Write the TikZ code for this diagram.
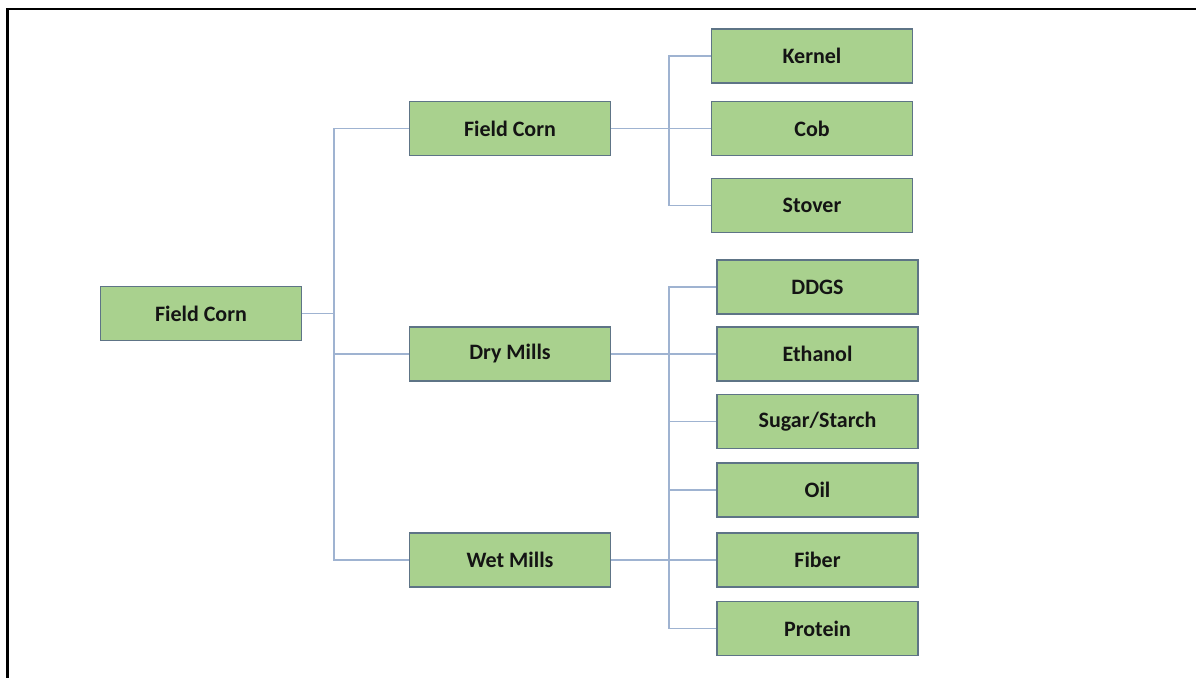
\documentclass[tikz,border=0pt]{standalone}
\usepackage{fontspec}
\setmainfont{Carlito}
\definecolor{boxfill}{HTML}{A9D18E}
\definecolor{boxedge}{HTML}{5E7486}
\definecolor{connc}{HTML}{9FB3D1}
\definecolor{txt}{HTML}{141414}
\begin{document}
\begin{tikzpicture}[x=1pt,y=-1pt,
  box/.style={draw=boxedge, fill=boxfill, line width=1.8pt, minimum width=201pt, minimum height=54pt, inner sep=0pt, font=\fontsize{22}{26}\selectfont\bfseries, text=txt},
  conn/.style={draw=connc, line width=1.3pt}]
\useasboundingbox (0,0) rectangle (1196,677);
\fill[white] (0,0) rectangle (1196,677);
\draw[line width=2.5pt, black] (7.5,680) -- (7.5,9) -- (1200,9);

\node[box] (root) at (201,313.5) {Field Corn};
\node[box] (mfc) at (510,128.5) {Field Corn};
\node[box] (dry) at (510,354) {Dry Mills};
\node[box] (wet) at (510,560) {Wet Mills};

\node[box] (kernel) at (812,56) {Kernel};
\node[box] (cob) at (812,128.5) {Cob};
\node[box] (stover) at (812,205.5) {Stover};

\node[box] (ddgs) at (817.5,287) {DDGS};
\node[box] (ethanol) at (817.5,354) {Ethanol};
\node[box] (sugar) at (817.5,421.5) {Sugar/Starch};
\node[box] (oil) at (817.5,490) {Oil};
\node[box] (fiber) at (817.5,560) {Fiber};
\node[box] (protein) at (817.5,628.5) {Protein};

\coordinate (trunk) at (334,313.5);
\coordinate (bu) at (669,128.5);
\coordinate (bl) at (669,354);

\draw[conn] (root.east) -- (trunk);
\draw[conn] (mfc.west) -| (trunk) |- (wet.west);
\draw[conn] (trunk |- dry.west) -- (dry.west);

\draw[conn] (mfc.east) -- (cob.west);
\draw[conn] (kernel.west) -| (bu) |- (stover.west);

\draw[conn] (dry.east) -- (ethanol.west);
\draw[conn] (wet.east) -- (fiber.west);
\draw[conn] (ddgs.west) -| (bl) |- (protein.west);
\draw[conn] (bl |- sugar.west) -- (sugar.west);
\draw[conn] (bl |- oil.west) -- (oil.west);
\end{tikzpicture}
\end{document}
